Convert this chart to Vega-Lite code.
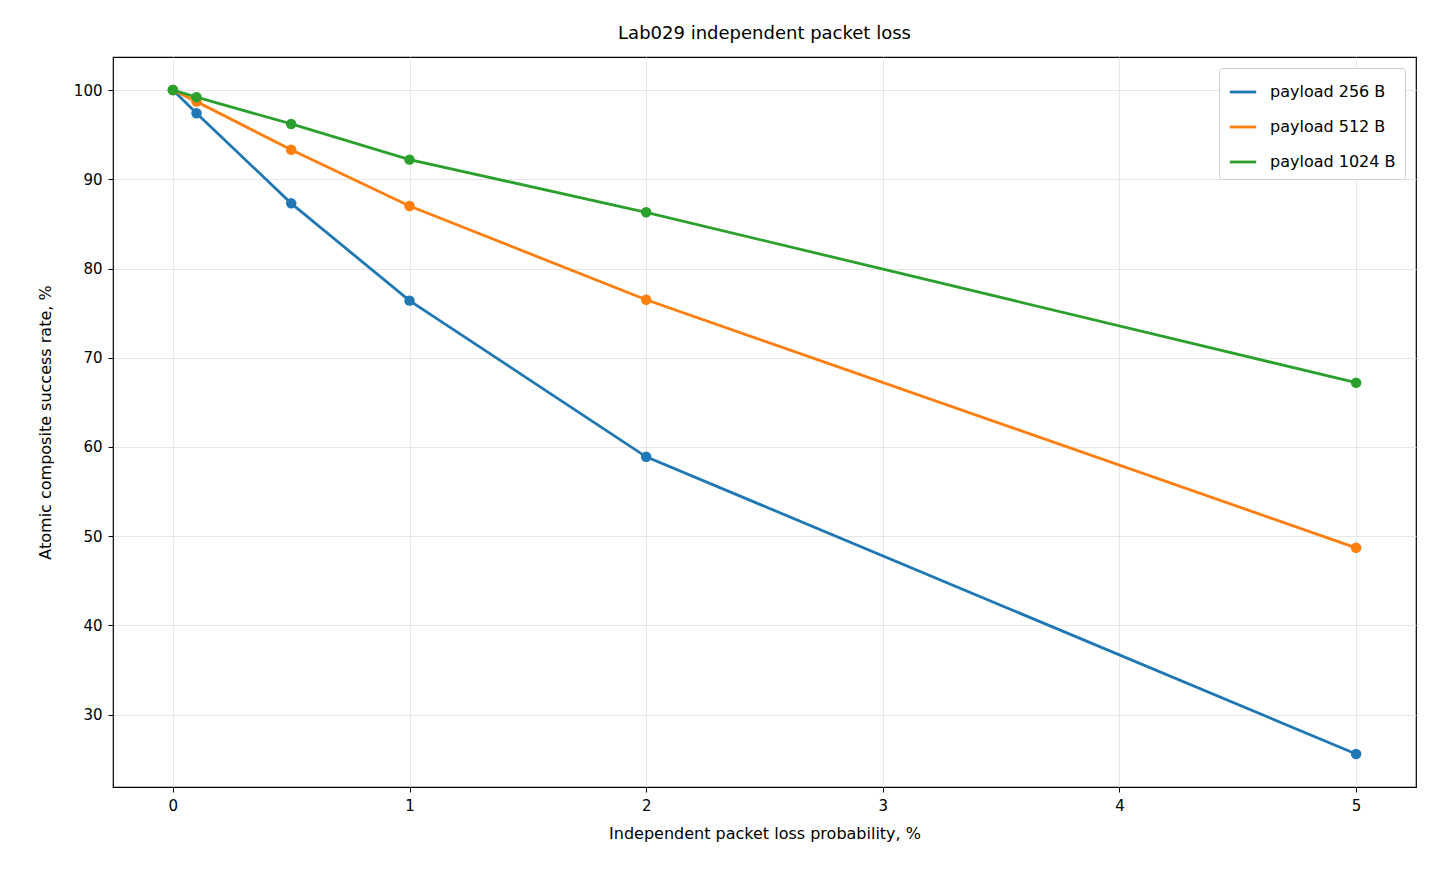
{
  "$schema": "https://vega.github.io/schema/vega-lite/v6.json",
  "width": 1303,
  "height": 730,
  "autosize": {"type": "none"},
  "padding": {"left": 113, "top": 57, "right": 24, "bottom": 93},
  "background": "white",
  "title": {"text": "Lab029 independent packet loss", "fontSize": 18, "fontWeight": "normal", "font": "DejaVu Sans", "offset": 14, "color": "black"},
  "config": {
    "font": "DejaVu Sans",
    "view": {"stroke": "black", "strokeWidth": 1.2}
  },
  "data": {"values": [
    {"p": 0, "s": 100, "g": "payload 256 B"},
    {"p": 0.1, "s": 97.4, "g": "payload 256 B"},
    {"p": 0.5, "s": 87.3, "g": "payload 256 B"},
    {"p": 1, "s": 76.4, "g": "payload 256 B"},
    {"p": 2, "s": 58.9, "g": "payload 256 B"},
    {"p": 5, "s": 25.6, "g": "payload 256 B"},
    {"p": 0, "s": 100, "g": "payload 512 B"},
    {"p": 0.1, "s": 98.7, "g": "payload 512 B"},
    {"p": 0.5, "s": 93.3, "g": "payload 512 B"},
    {"p": 1, "s": 87.0, "g": "payload 512 B"},
    {"p": 2, "s": 76.5, "g": "payload 512 B"},
    {"p": 5, "s": 48.7, "g": "payload 512 B"},
    {"p": 0, "s": 100, "g": "payload 1024 B"},
    {"p": 0.1, "s": 99.2, "g": "payload 1024 B"},
    {"p": 0.5, "s": 96.2, "g": "payload 1024 B"},
    {"p": 1, "s": 92.2, "g": "payload 1024 B"},
    {"p": 2, "s": 86.3, "g": "payload 1024 B"},
    {"p": 5, "s": 67.2, "g": "payload 1024 B"}
  ]},
  "mark": {"type": "line", "strokeWidth": 2.8, "point": {"filled": true, "size": 110, "opacity": 1}},
  "encoding": {
    "x": {"field": "p", "type": "quantitative", "title": "Independent packet loss probability, %",
      "scale": {"domain": [-0.253, 5.253], "nice": false, "zero": false},
      "axis": {"values": [0, 1, 2, 3, 4, 5], "titlePadding": 12, "labelFontSize": 15, "titleFontSize": 16, "titleFontWeight": "normal", "labelColor": "black", "titleColor": "black", "gridColor": "#e6e6e6", "domain": false, "tickColor": "black", "tickSize": 5, "labelPadding": 6}},
    "y": {"field": "s", "type": "quantitative", "title": "Atomic composite success rate, %",
      "scale": {"domain": [21.9, 103.7], "nice": false, "zero": false},
      "axis": {"values": [30, 40, 50, 60, 70, 80, 90, 100], "titlePadding": 20, "labelFontSize": 15, "titleFontSize": 16, "titleFontWeight": "normal", "labelColor": "black", "titleColor": "black", "gridColor": "#e6e6e6", "domain": false, "tickColor": "black", "tickSize": 5, "labelPadding": 6}},
    "color": {"field": "g", "type": "nominal", "title": null,
      "sort": ["payload 256 B", "payload 512 B", "payload 1024 B"],
      "scale": {"domain": ["payload 256 B", "payload 512 B", "payload 1024 B"], "range": ["#1f77b4", "#ff7f0e", "#2ca02c"]},
      "legend": {"orient": "top-right", "offset": 11, "labelFontSize": 16, "labelColor": "black", "symbolType": "stroke", "symbolStrokeWidth": 2.8, "symbolSize": 700, "fillColor": "white", "strokeColor": "#cccccc", "padding": 9, "cornerRadius": 3, "rowPadding": 12, "labelOffset": 12}}
  }
}
